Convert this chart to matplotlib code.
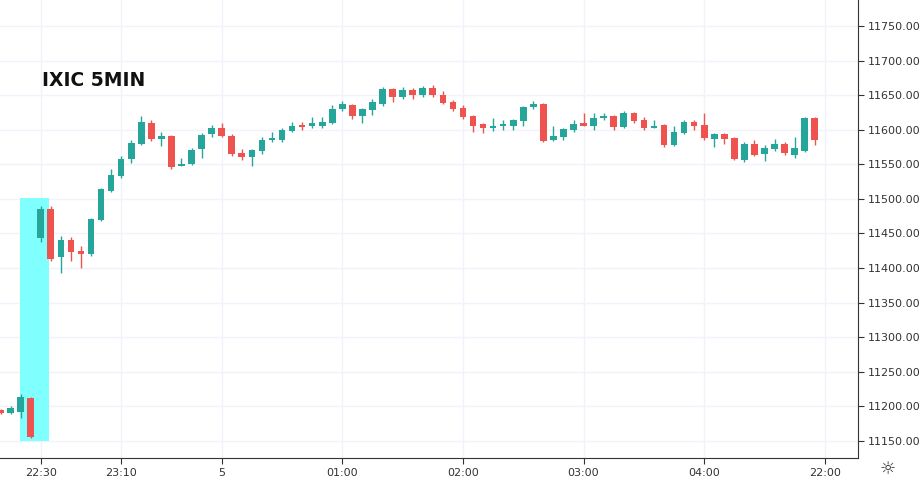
import matplotlib.pyplot as plt
from matplotlib.patches import Rectangle

# 5-minute candles: open, close, high, low
opens = [11195, 11190, 11192, 11212, 11444, 11485, 11416, 11440, 11424, 11420,
         11470, 11512, 11533, 11558, 11580, 11610, 11587, 11591, 11548, 11550,
         11572, 11594, 11603, 11591, 11566, 11561, 11570, 11586, 11585, 11599,
         11607, 11605, 11605, 11610, 11630, 11636, 11620, 11629, 11638, 11659,
         11648, 11658, 11650, 11660, 11651, 11640, 11631, 11620, 11608, 11603,
         11605, 11606, 11613, 11633, 11637, 11586, 11590, 11600, 11610, 11605,
         11617, 11620, 11604, 11624, 11614, 11603, 11607, 11578, 11596, 11611,
         11607, 11587, 11594, 11588, 11557, 11580, 11565, 11573, 11580, 11564,
         11570, 11617]
closes = [11190, 11198, 11214, 11156, 11485, 11413, 11440, 11423, 11420, 11471,
          11514, 11535, 11558, 11581, 11611, 11587, 11591, 11546, 11551, 11571,
          11593, 11603, 11591, 11565, 11561, 11571, 11586, 11588, 11600, 11605,
          11604, 11610, 11611, 11630, 11637, 11620, 11630, 11640, 11659, 11647,
          11658, 11650, 11660, 11650, 11639, 11630, 11619, 11605, 11603, 11606,
          11608, 11614, 11633, 11637, 11584, 11591, 11601, 11608, 11606, 11617,
          11620, 11604, 11624, 11613, 11603, 11606, 11578, 11597, 11612, 11605,
          11588, 11594, 11587, 11558, 11580, 11564, 11574, 11580, 11566, 11574,
          11617, 11586]
highs = [11196, 11200, 11217, 11213, 11490, 11490, 11447, 11445, 11432, 11473,
         11516, 11543, 11562, 11585, 11620, 11615, 11597, 11592, 11560, 11574,
         11595, 11607, 11610, 11594, 11572, 11573, 11590, 11597, 11603, 11612,
         11612, 11618, 11618, 11636, 11642, 11638, 11632, 11645, 11662, 11660,
         11662, 11660, 11664, 11665, 11656, 11643, 11636, 11622, 11610, 11617,
         11614, 11616, 11635, 11642, 11639, 11605, 11603, 11615, 11625, 11625,
         11625, 11622, 11628, 11626, 11618, 11615, 11609, 11605, 11614, 11614,
         11624, 11596, 11596, 11590, 11582, 11586, 11578, 11587, 11582, 11590,
         11618, 11618]
lows = [11188, 11188, 11183, 11154, 11438, 11410, 11393, 11410, 11400, 11418,
        11468, 11510, 11530, 11552, 11578, 11584, 11577, 11543, 11547, 11549,
        11560, 11590, 11590, 11562, 11557, 11548, 11565, 11582, 11582, 11597,
        11600, 11603, 11603, 11608, 11627, 11616, 11610, 11622, 11635, 11640,
        11645, 11645, 11648, 11648, 11637, 11628, 11616, 11597, 11595, 11598,
        11600, 11600, 11605, 11630, 11582, 11584, 11586, 11597, 11605, 11600,
        11615, 11600, 11602, 11610, 11600, 11602, 11575, 11576, 11594, 11600,
        11586, 11575, 11580, 11556, 11554, 11562, 11555, 11570, 11563, 11560,
        11568, 11578]

tick_idx = [4, 12, 22, 34, 46, 58, 70, 82]
tick_labels = ['22:30', '23:10', '5', '01:00', '02:00', '03:00', '04:00', '22:00']
y_ticks = list(range(11150, 11751, 50))

up, down = '#26a69a', '#ef5350'

fig = plt.figure(figsize=(9.22, 4.8), dpi=100)
ax = fig.add_axes([0, 1 - 458 / 480, 858 / 922, 458 / 480])

# highlighted region
ax.add_patch(Rectangle((1.9, 11150), 2.95, 352, color='#80ffff', zorder=1, lw=0))

for i, (o, c, h, l) in enumerate(zip(opens, closes, highs, lows)):
    col = up if c >= o else down
    ax.vlines(i, l, h, color=col, lw=1, zorder=2)
    ax.add_patch(Rectangle((i - 0.33, min(o, c)), 0.66, max(abs(c - o), 1.5),
                           color=col, lw=0, zorder=3))

ax.set_xlim(-0.05, 85.3)
ax.set_ylim(11125, 11788)
ax.set_xticks(tick_idx)
ax.set_xticklabels(tick_labels)
ax.set_yticks(y_ticks)
ax.set_yticklabels([f'{v:.2f}' for v in y_ticks])
ax.yaxis.tick_right()
ax.grid(True, color='#f0f3fa', lw=1, zorder=0)
ax.set_axisbelow(True)
ax.tick_params(labelsize=8, colors='#333333', length=4)
ax.tick_params(axis='y', pad=3)
for s in ['top', 'left']:
    ax.spines[s].set_visible(False)
ax.spines['right'].set_color('#333333')
ax.spines['bottom'].set_color('#333333')

ax.text(42 / 858, 1 - 80 / 458, 'IXIC 5MIN', transform=ax.transAxes,
        fontsize=13.5, fontweight='bold', va='center', color='#111111')
fig.text(888 / 922, 1 - 469 / 480, '☼', fontsize=13, ha='center', va='center',
         color='#333333')

fig.savefig('out.png')
